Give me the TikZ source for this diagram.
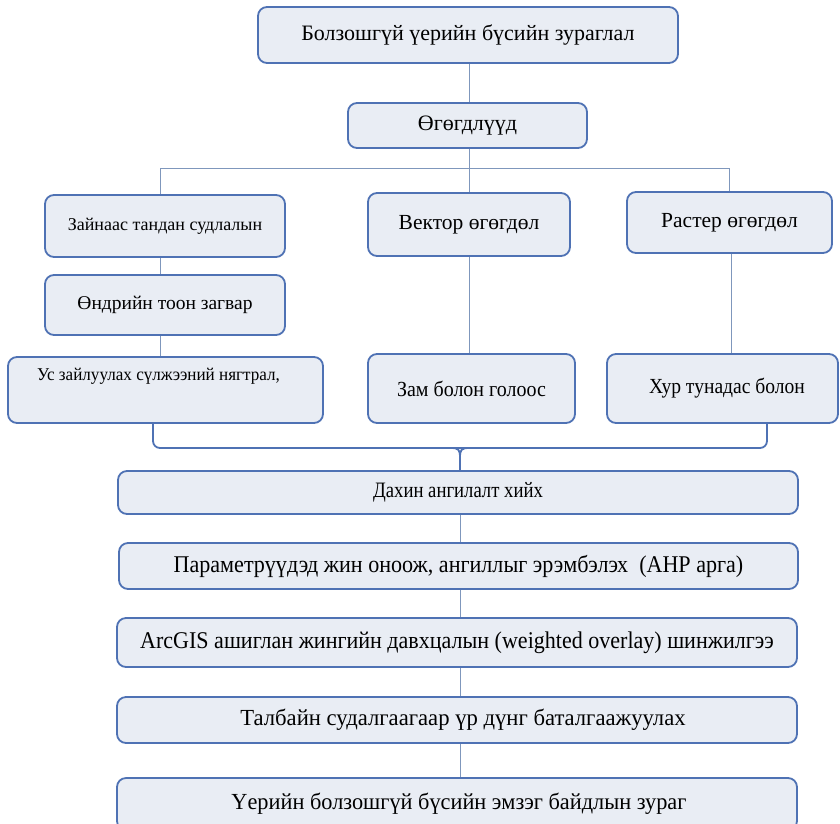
\documentclass[tikz,border=0pt]{standalone}
\usepackage{fontspec}
\setmainfont{Liberation Serif}
\usepackage{graphicx}
\usetikzlibrary{calc}
\definecolor{bx}{HTML}{4F72B4}
\definecolor{bf}{HTML}{E9EDF4}
\definecolor{cn}{HTML}{7F97BC}
\tikzset{
 box/.style={draw=bx, fill=bf, line width=1.8pt, rounded corners=9pt, inner sep=0pt, anchor=center},
 conn/.style={draw=cn, line width=1pt},
 brc/.style={draw=bx, line width=1.8pt},
}
\newcommand{\tx}[3]{\fontsize{#1}{#1}\selectfont\scalebox{#2}[1]{#3}}
\begin{document}
\begin{tikzpicture}[x=1pt,y=-1pt]
\useasboundingbox (0,0) rectangle (840,823);
\node[box, minimum width=420pt, minimum height=56pt] (top) at (468,35) {\tx{22}{1}{Болзошгүй үерийн бүсийн зураглал}};
\node[box, minimum width=239pt, minimum height=45pt] (ogo) at (467.5,125.5) {\tx{22}{1}{Өгөгдлүүд}};
\node[box, minimum width=240pt, minimum height=62pt] (zai) at (165,226) {\tx{18}{1}{Зайнаас тандан судлалын}};
\node[box, minimum width=240pt, minimum height=60pt] (ond) at (165,305) {\tx{19.5}{1}{Өндрийн тоон загвар}};
\node[box, minimum width=315pt, minimum height=66pt] (us) at (165.5,390) {\hspace*{-14pt}\raisebox{32pt}{\tx{18}{0.95}{Ус зайлуулах\ сүлжээний нягтрал,}}};
\node[box, minimum width=202pt, minimum height=63pt] (vek) at (469,224.5) {\tx{21.5}{1}{Вектор өгөгдөл}};
\node[box, minimum width=205pt, minimum height=61pt] (ras) at (729.5,222.5) {\tx{21.5}{1}{Растер өгөгдөл}};
\node[box, minimum width=207pt, minimum height=69pt] (zam) at (471.5,388.5) {\tx{21.5}{0.93}{Зам болон голоос}};
\node[box, minimum width=231pt, minimum height=69pt] (hur) at (722.5,388.5) {\hspace*{9pt}\tx{21.5}{0.91}{Хур тунадас болон}};
\node[box, minimum width=680pt, minimum height=43pt] (dah) at (458,492.5) {\tx{22}{0.85}{Дахин ангилалт хийх}};
\node[box, minimum width=679pt, minimum height=46pt] (par) at (458.5,566) {\tx{24}{0.92}{Параметрүүдэд жин оноож, ангиллыг эрэмбэлэх\ \ (AHP арга)}};
\node[box, minimum width=680pt, minimum height=49pt] (arc) at (457,642.5) {\tx{24}{0.918}{ArcGIS ашиглан жингийн давхцалын (weighted overlay) шинжилгээ}};
\node[box, minimum width=680pt, minimum height=46pt] (tal) at (457,720) {\hspace*{12pt}\tx{23}{0.985}{Талбайн судалгаагаар үр дүнг баталгаажуулах}};
\node[box, minimum width=680pt, minimum height=52pt] (uer) at (457,804) {\hspace*{4pt}\tx{23}{0.97}{Үерийн болзошгүй бүсийн эмзэг байдлын зураг}};
% top connectors
\coordinate (bl) at (160,168);
\coordinate (bm) at (469,168);
\coordinate (br) at (729,168);
\draw[conn] (bm |- top.south) -- (bm |- ogo.north);
\draw[conn] (bl) -- (br);
\draw[conn] (bm |- ogo.south) -- (bm |- vek.north);
\draw[conn] (bl) -- (bl |- zai.north);
\draw[conn] (br) -- (br |- ras.north);
\draw[conn] (bl |- zai.south) -- (bl |- ond.north);
\draw[conn] (bl |- ond.south) -- (bl |- us.north);
\draw[conn] (vek.south) -- (vek.south |- zam.north);
\draw[conn] (731,0 |- ras.south) -- (731,0 |- hur.north);
% brace
\coordinate (brL) at (153,448);
\coordinate (brR) at (767,448);
\coordinate (brM) at (460,448);
\draw[brc, rounded corners=7pt] (brL |- us.south) -- (brL) -- (brR) -- (brR |- hur.south);
\draw[brc] ($(brM)+(-9,0)$) .. controls ($(brM)+(-1,0)$) and ($(brM)+(0,2)$) .. ($(brM)+(0,10)$) -- (brM |- dah.north);
\draw[brc] ($(brM)+(9,0)$) .. controls ($(brM)+(1,0)$) and ($(brM)+(0,2)$) .. ($(brM)+(0,10)$);
% bottom chain
\draw[conn] (brM |- dah.south) -- (brM |- par.north);
\draw[conn] (brM |- par.south) -- (brM |- arc.north);
\draw[conn] (brM |- arc.south) -- (brM |- tal.north);
\draw[conn] (brM |- tal.south) -- (brM |- uer.north);
\end{tikzpicture}
\end{document}
